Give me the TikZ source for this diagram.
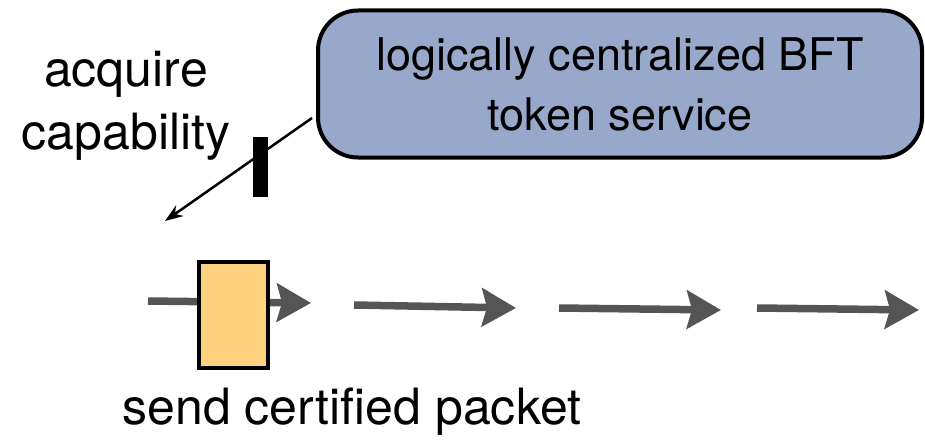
\documentclass[tikz,border=0pt]{standalone}
\usepackage{fontspec}
\setmainfont{TeX Gyre Heros}
\usepackage{tikz}
\usetikzlibrary{positioning, shapes, arrows.meta, calc}
\definecolor{ServiceBlue}{RGB}{152, 168, 203}
\definecolor{PacketOrange}{RGB}{255, 210, 128}
\definecolor{FlowGray}{RGB}{85, 85, 85}

\begin{document}
\begin{tikzpicture}[
    x=1pt, y=-1pt,
    every node/.style={font=\fontsize{50}{63}\selectfont},
    service/.style={rectangle, rounded corners=40pt, draw=black, line width=4pt, fill=ServiceBlue,
      minimum width=604pt, minimum height=147pt, align=center, inner sep=0pt,
      font=\fontsize{45}{60}\selectfont},
    packet/.style={rectangle, draw=black, line width=4pt, fill=PacketOrange,
      minimum width=69pt, minimum height=106pt, inner sep=0pt},
    token/.style={rectangle, fill=black, minimum width=15pt, minimum height=60pt, inner sep=0pt},
    label/.style={align=center, inner sep=0pt},
    fetch/.style={-{Stealth[length=18pt, width=13pt]}, line width=2.5pt},
    hop/.style={-{Stealth[length=34pt, width=38pt, inset=5pt]}, line width=7.5pt, draw=FlowGray}
  ]
    \useasboundingbox (0,0) rectangle (925,444);

    % Token service
    \node[service] (svc) at (620,84) {logically centralized BFT\\token service};

    % Capability request
    \node[label] (acq) at (126,106) {acquire\\capability};
    \coordinate (req) at (312,118);
    \coordinate (cap) at (165,221);
    \draw[fetch] (req) -- (cap);
    \node[token] (tok) at (260.5,167) {};

    % Packet path
    \coordinate (p0) at (148,301);
    \coordinate (p1) at (311,303);
    \coordinate (p2) at (354,305);
    \coordinate (p3) at (516,308);
    \coordinate (p4) at (559,308);
    \coordinate (p5) at (721,310);
    \coordinate (p6) at (757,308);
    \coordinate (p7) at (919,310);
    \draw[hop] (p0) -- (p1);
    \draw[hop] (p2) -- (p3);
    \draw[hop] (p4) -- (p5);
    \draw[hop] (p6) -- (p7);

    % Certified packet
    \node[packet] (pkt) at (233.5,315) {};
    \node[label] (send) at (352,412) {send certified packet};
  \end{tikzpicture}
\end{document}
